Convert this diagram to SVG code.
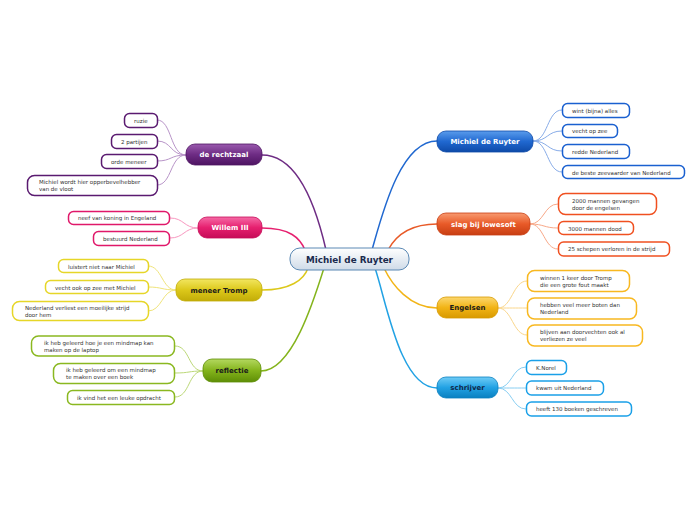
<svg xmlns="http://www.w3.org/2000/svg" width="696" height="520" viewBox="0 0 696 520">
<defs>
<linearGradient id="gC" x1="0" y1="0" x2="0" y2="1"><stop offset="0" stop-color="#ffffff"/><stop offset="1" stop-color="#cfdbe8"/></linearGradient>
<linearGradient id="gPu" x1="0" y1="0" x2="0" y2="1"><stop offset="0" stop-color="#9a5aae"/><stop offset="0.5" stop-color="#6e2c84"/><stop offset="1" stop-color="#4e1462"/></linearGradient>
<linearGradient id="gPi" x1="0" y1="0" x2="0" y2="1"><stop offset="0" stop-color="#f56aa6"/><stop offset="0.5" stop-color="#e6206f"/><stop offset="1" stop-color="#c60c58"/></linearGradient>
<linearGradient id="gYe" x1="0" y1="0" x2="0" y2="1"><stop offset="0" stop-color="#f2e660"/><stop offset="0.5" stop-color="#dcc81a"/><stop offset="1" stop-color="#c2ac08"/></linearGradient>
<linearGradient id="gGr" x1="0" y1="0" x2="0" y2="1"><stop offset="0" stop-color="#b4d860"/><stop offset="0.5" stop-color="#84b41c"/><stop offset="1" stop-color="#5e8e06"/></linearGradient>
<linearGradient id="gBl" x1="0" y1="0" x2="0" y2="1"><stop offset="0" stop-color="#5a9cec"/><stop offset="0.5" stop-color="#2068d0"/><stop offset="1" stop-color="#0e4aa8"/></linearGradient>
<linearGradient id="gOr" x1="0" y1="0" x2="0" y2="1"><stop offset="0" stop-color="#f89a70"/><stop offset="0.5" stop-color="#e85a28"/><stop offset="1" stop-color="#c83e12"/></linearGradient>
<linearGradient id="gYo" x1="0" y1="0" x2="0" y2="1"><stop offset="0" stop-color="#fcd870"/><stop offset="0.5" stop-color="#f2b416"/><stop offset="1" stop-color="#d89a00"/></linearGradient>
<linearGradient id="gLb" x1="0" y1="0" x2="0" y2="1"><stop offset="0" stop-color="#70ccf6"/><stop offset="0.5" stop-color="#22a2e4"/><stop offset="1" stop-color="#0a80c0"/></linearGradient>
</defs>
<style>
.sub{fill:#ffffff;stroke-width:1.5}
.st{font-family:"DejaVu Sans",Verdana,sans-serif;font-size:5.5px;fill:#333333}
.mt{font-family:"DejaVu Sans",Verdana,sans-serif;font-size:7px;font-weight:bold;text-anchor:middle}
.w{fill:#ffffff}
.d{fill:#1a1a1a}
.main{stroke-width:0.8}
.c{fill:none}
</style>
<rect width="696" height="520" fill="#ffffff"/>
<g id="connectors" class="c">
<path d="M262,155 C300,155 318,215 326,250" stroke="#6e2c84" stroke-width="1.5"/>
<path d="M262,228 C290,228 300,238 305,250" stroke="#e6206f" stroke-width="1.5"/>
<path d="M262,290 C290,290 304,280 308,268" stroke="#dcc81a" stroke-width="1.5"/>
<path d="M261,371 C292,371 314,300 324,268" stroke="#84b41c" stroke-width="1.5"/>
<path d="M437,141 C400,141 382,215 372,250" stroke="#2068d0" stroke-width="1.5"/>
<path d="M437,224 C410,224 396,235 388,250" stroke="#e85a28" stroke-width="1.5"/>
<path d="M437,308 C410,308 392,285 384,268" stroke="#f2b416" stroke-width="1.5"/>
<path d="M437,388 C400,388 386,300 375,268" stroke="#22a2e4" stroke-width="1.5"/>
<g stroke="#b894c8" stroke-width="1">
<path d="M186,155 C170,155 172,120 157,120"/>
<path d="M186,155 C170,155 172,141 157,141"/>
<path d="M186,155 C170,155 172,161 157,161"/>
<path d="M186,155 C170,155 172,185 157,185"/>
</g>
<g stroke="#f898c0" stroke-width="1">
<path d="M198,228 C184,228 184,218 170,218"/>
<path d="M198,228 C184,228 184,238 170,238"/>
</g>
<g stroke="#f0e47a" stroke-width="1">
<path d="M176,290 C162,290 162,266 148,266"/>
<path d="M176,290 C162,290 162,287 148,287"/>
<path d="M176,290 C162,290 162,311 148,311"/>
</g>
<g stroke="#bcd878" stroke-width="1">
<path d="M203,371 C188,371 190,346 175,346"/>
<path d="M203,371 C188,371 190,373 175,373"/>
<path d="M203,371 C188,371 190,397 175,397"/>
</g>
<g stroke="#88ace8" stroke-width="1">
<path d="M533,141 C548,141 547,110 562,110"/>
<path d="M533,141 C548,141 547,131 562,131"/>
<path d="M533,141 C548,141 547,151 562,151"/>
<path d="M533,141 C548,141 547,172 562,172"/>
</g>
<g stroke="#f8a888" stroke-width="1">
<path d="M530,224 C544,224 544,204 558,204"/>
<path d="M530,224 C544,224 544,228 558,228"/>
<path d="M530,224 C544,224 544,249 558,249"/>
</g>
<g stroke="#fad68a" stroke-width="1">
<path d="M498,308 C512,308 513,281 527,281"/>
<path d="M498,308 C512,308 513,308 527,308"/>
<path d="M498,308 C512,308 513,335 527,335"/>
</g>
<g stroke="#88cef2" stroke-width="1">
<path d="M498,388 C512,388 512,367 526,367"/>
<path d="M498,388 C512,388 512,388 526,388"/>
<path d="M498,388 C512,388 512,409 526,409"/>
</g>
</g>
<g id="center">
<rect x="290" y="248" width="119" height="22" rx="10" fill="url(#gC)" stroke="#5a88b4" stroke-width="1"/>
<text x="349.5" y="262.5" font-family="DejaVu Sans,Verdana,sans-serif" font-size="8.8" font-weight="bold" fill="#1a2a4e" text-anchor="middle">Michiel de Ruyter</text>
</g>
<g id="n-rechtzaal">
<rect x="186" y="144" width="76" height="21" rx="9" fill="url(#gPu)" stroke="#4e1462" class="main"/>
<text x="224" y="157" class="mt w">de rechtzaal</text>
</g>
<g id="n-willem">
<rect x="198" y="217" width="64" height="21" rx="9" fill="url(#gPi)" stroke="#c60c58" class="main"/>
<text x="230" y="230" class="mt w">Willem III</text>
</g>
<g id="n-tromp">
<rect x="176" y="279" width="86" height="22" rx="9" fill="url(#gYe)" stroke="#c2ac08" class="main"/>
<text x="219" y="292.5" class="mt d">meneer Tromp</text>
</g>
<g id="n-reflectie">
<rect x="203" y="359" width="58" height="23" rx="9" fill="url(#gGr)" stroke="#5e8e06" class="main"/>
<text x="232" y="373" class="mt d">reflectie</text>
</g>
<g id="n-michiel">
<rect x="437" y="131" width="96" height="21" rx="9" fill="url(#gBl)" stroke="#0e4aa8" class="main"/>
<text x="485" y="144" class="mt w">Michiel de Ruyter</text>
</g>
<g id="n-slag">
<rect x="437" y="213" width="93" height="22" rx="9" fill="url(#gOr)" stroke="#c83e12" class="main"/>
<text x="483.5" y="226.5" class="mt w">slag bij lowesoft</text>
</g>
<g id="n-engelsen">
<rect x="437" y="297" width="61" height="21" rx="9" fill="url(#gYo)" stroke="#d89a00" class="main"/>
<text x="467.5" y="310" class="mt d">Engelsen</text>
</g>
<g id="n-schrijver">
<rect x="437" y="377" width="61" height="21" rx="9" fill="url(#gLb)" stroke="#0a80c0" class="main"/>
<text x="467.5" y="390" class="mt" fill="#10284a">schrijver</text>
</g>
<g id="s-ruzie"><rect x="124.5" y="113.5" width="33" height="14" rx="5" class="sub" stroke="#5a1a70"/><text x="134" y="122.5" class="st">ruzie</text></g>
<g id="s-partijen"><rect x="111.5" y="134.5" width="46" height="14" rx="5" class="sub" stroke="#5a1a70"/><text x="121" y="143.5" class="st">2 partijen</text></g>
<g id="s-orde"><rect x="101.5" y="154.5" width="56" height="14" rx="5" class="sub" stroke="#5a1a70"/><text x="111" y="163.5" class="st">orde meneer</text></g>
<g id="s-opper"><rect x="27.5" y="175.5" width="130" height="20" rx="7" class="sub" stroke="#5a1a70"/><text class="st"><tspan x="39" y="184">Michiel wordt hier opperbevelhebber</tspan><tspan x="39" y="191">van de vloot</tspan></text></g>
<g id="s-neef"><rect x="68.5" y="211.5" width="101" height="13" rx="5" class="sub" stroke="#e0186a"/><text x="78" y="220" class="st">neef van koning in Engeland</text></g>
<g id="s-bestuurd"><rect x="93.5" y="231.5" width="76" height="14" rx="5" class="sub" stroke="#e0186a"/><text x="103" y="240.5" class="st">bestuurd Nederland</text></g>
<g id="s-luistert"><rect x="58.5" y="259.5" width="90" height="13" rx="5" class="sub" stroke="#e6d628"/><text x="68" y="268.5" class="st">luistert niet naar Michiel</text></g>
<g id="s-vecht2"><rect x="45.5" y="280.5" width="103" height="13" rx="5" class="sub" stroke="#e6d628"/><text x="55" y="289.5" class="st">vecht ook op zee met Michiel</text></g>
<g id="s-verliest"><rect x="12.5" y="301.5" width="136" height="19" rx="7" class="sub" stroke="#e6d628"/><text class="st"><tspan x="25" y="310">Nederland verliest een moeilijke strijd</tspan><tspan x="25" y="317">door hem</tspan></text></g>
<g id="s-geleerd1"><rect x="31.5" y="336" width="143" height="20" rx="7" class="sub" stroke="#8ab820"/><text class="st"><tspan x="44" y="345">ik heb geleerd hoe je een mindmap kan</tspan><tspan x="44" y="352">maken op de laptop</tspan></text></g>
<g id="s-geleerd2"><rect x="53.5" y="363.5" width="121" height="20" rx="7" class="sub" stroke="#8ab820"/><text class="st"><tspan x="66" y="372">ik heb geleerd om een mindmap</tspan><tspan x="66" y="379">te maken over een boek</tspan></text></g>
<g id="s-leuk"><rect x="67.5" y="390.5" width="107" height="14" rx="5" class="sub" stroke="#8ab820"/><text x="77" y="399.5" class="st">ik vind het een leuke opdracht</text></g>
<g id="s-wint"><rect x="562.5" y="103.5" width="67" height="14" rx="5" class="sub" stroke="#1a60d0"/><text x="572" y="112.5" class="st">wint (bijna) alles</text></g>
<g id="s-vecht"><rect x="562.5" y="124.5" width="55" height="13" rx="5" class="sub" stroke="#1a60d0"/><text x="572" y="133" class="st">vecht op zee</text></g>
<g id="s-redde"><rect x="562.5" y="144.5" width="67" height="14" rx="5" class="sub" stroke="#1a60d0"/><text x="572" y="153.5" class="st">redde Nederland</text></g>
<g id="s-beste"><rect x="562.5" y="165.5" width="122" height="13" rx="5" class="sub" stroke="#1a60d0"/><text x="572" y="174.5" class="st">de beste zeevaarder van Nederland</text></g>
<g id="s-2000"><rect x="558.5" y="193.5" width="98" height="21" rx="7" class="sub" stroke="#f05020"/><text class="st"><tspan x="572" y="202.5">2000 mannen gevangen</tspan><tspan x="572" y="209.5">door de engelsen</tspan></text></g>
<g id="s-3000"><rect x="558.5" y="221.5" width="75" height="13" rx="5" class="sub" stroke="#f05020"/><text x="568" y="230.5" class="st">3000 mannen dood</text></g>
<g id="s-25"><rect x="558.5" y="242" width="111" height="14" rx="5" class="sub" stroke="#f05020"/><text x="568" y="251" class="st">25 schepen verloren in de strijd</text></g>
<g id="s-winnen"><rect x="527.5" y="270.5" width="102" height="21" rx="7" class="sub" stroke="#f8b820"/><text class="st"><tspan x="540" y="279.5">winnen 1 keer door Tromp</tspan><tspan x="540" y="286.5">die een grote fout maakt</tspan></text></g>
<g id="s-hebben"><rect x="527.5" y="298" width="109" height="21" rx="7" class="sub" stroke="#f8b820"/><text class="st"><tspan x="540" y="307">hebben veel meer boten dan</tspan><tspan x="540" y="314">Nederland</tspan></text></g>
<g id="s-blijven"><rect x="527.5" y="325" width="115" height="21" rx="7" class="sub" stroke="#f8b820"/><text class="st"><tspan x="540" y="334">blijven aan doorvechten ook al</tspan><tspan x="540" y="341">verliezen ze veel</tspan></text></g>
<g id="s-norel"><rect x="526.5" y="360.5" width="40" height="14" rx="5" class="sub" stroke="#1aa0e8"/><text x="536" y="369.5" class="st">K.Norel</text></g>
<g id="s-kwam"><rect x="526.5" y="381" width="77" height="14" rx="5" class="sub" stroke="#1aa0e8"/><text x="536" y="390" class="st">kwam uit Nederland</text></g>
<g id="s-heeft"><rect x="526.5" y="402" width="105" height="14" rx="5" class="sub" stroke="#1aa0e8"/><text x="536" y="411" class="st">heeft 130 boeken geschreven</text></g>
</svg>
